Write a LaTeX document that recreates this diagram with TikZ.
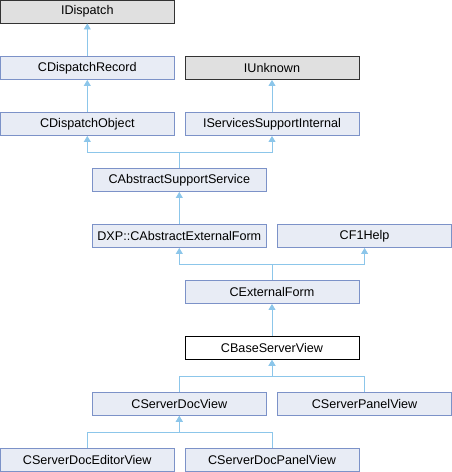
\documentclass[tikz,border=0pt]{standalone}
\usepackage{fontspec}
\setmainfont{Liberation Sans}
\usepackage{xcolor}
\usetikzlibrary{arrows.meta,positioning,calc}
\definecolor{boxfill}{RGB}{232,236,245}
\definecolor{boxline}{RGB}{124,146,200}
\definecolor{extfill}{RGB}{224,224,224}
\definecolor{edgeblue}{RGB}{140,198,234}

\begin{document}
\begin{tikzpicture}[x = 1pt, y = -1pt,
  cls/.style = {draw=boxline, fill=boxfill, line width=.9pt, minimum width=174pt,
    minimum height=23pt, inner sep=0pt, font=\fontsize{12.6}{15}\selectfont},
  ext/.style = {cls, draw=black!80, fill=extfill},
  cur/.style = {cls, draw=black, fill=white},
  inh/.style = {-{Triangle[width=7pt,length=6pt]}, draw=edgeblue, line width=.9pt}]
\useasboundingbox (0,0) rectangle (452,472);
\node[ext] (idisp) at (87.3, 11.5) {IDispatch};
\node[cls] (drec) at (87.3, 68) {CDispatchRecord};
\node[ext] (iunk) at (272, 68) {IUnknown};
\node[cls] (dobj) at (87.3, 124) {CDispatchObject};
\node[cls] (isupp) at (272, 124) {IServicesSupportInternal};
\node[cls] (abssupp) at (179.3, 180) {CAbstractSupportService};
\node[cls] (absform) at (179.3, 236) {DXP::CAbstractExternalForm};
\node[cls] (f1help) at (364.6, 236) {CF1Help};
\node[cls] (extform) at (272, 292) {CExternalForm};
\node[cur] (baseview) at (272, 348) {CBaseServerView};
\node[cls] (docview) at (179.3, 404) {CServerDocView};
\node[cls] (panelview) at (364.6, 404) {CServerPanelView};
\node[cls] (doceditor) at (87.3, 460) {CServerDocEditorView};
\node[cls] (docpanel) at (272, 460) {CServerDocPanelView};
% inheritance edges
\draw[inh] (drec) -- (idisp);
\draw[inh] (dobj) -- (drec);
\draw[inh] (isupp) -- (iunk);
\draw[inh] (abssupp.north) -- ++(0,-16) -| (dobj.south);
\draw[inh] (abssupp.north) -- ++(0,-16) -| (isupp.south);
\draw[inh] (absform) -- (abssupp);
\draw[inh] (extform.north) -- ++(0,-16) -| (absform.south);
\draw[inh] (extform.north) -- ++(0,-16) -| (f1help.south);
\draw[inh] (baseview) -- (extform);
\draw[inh] (docview.north) -- ++(0,-16) -| (baseview.south);
\draw[inh] (panelview.north) -- ++(0,-16) -| (baseview.south);
\draw[inh] (doceditor.north) -- ++(0,-16) -| (docview.south);
\draw[inh] (docpanel.north) -- ++(0,-16) -| (docview.south);

\end{tikzpicture}
\end{document}
